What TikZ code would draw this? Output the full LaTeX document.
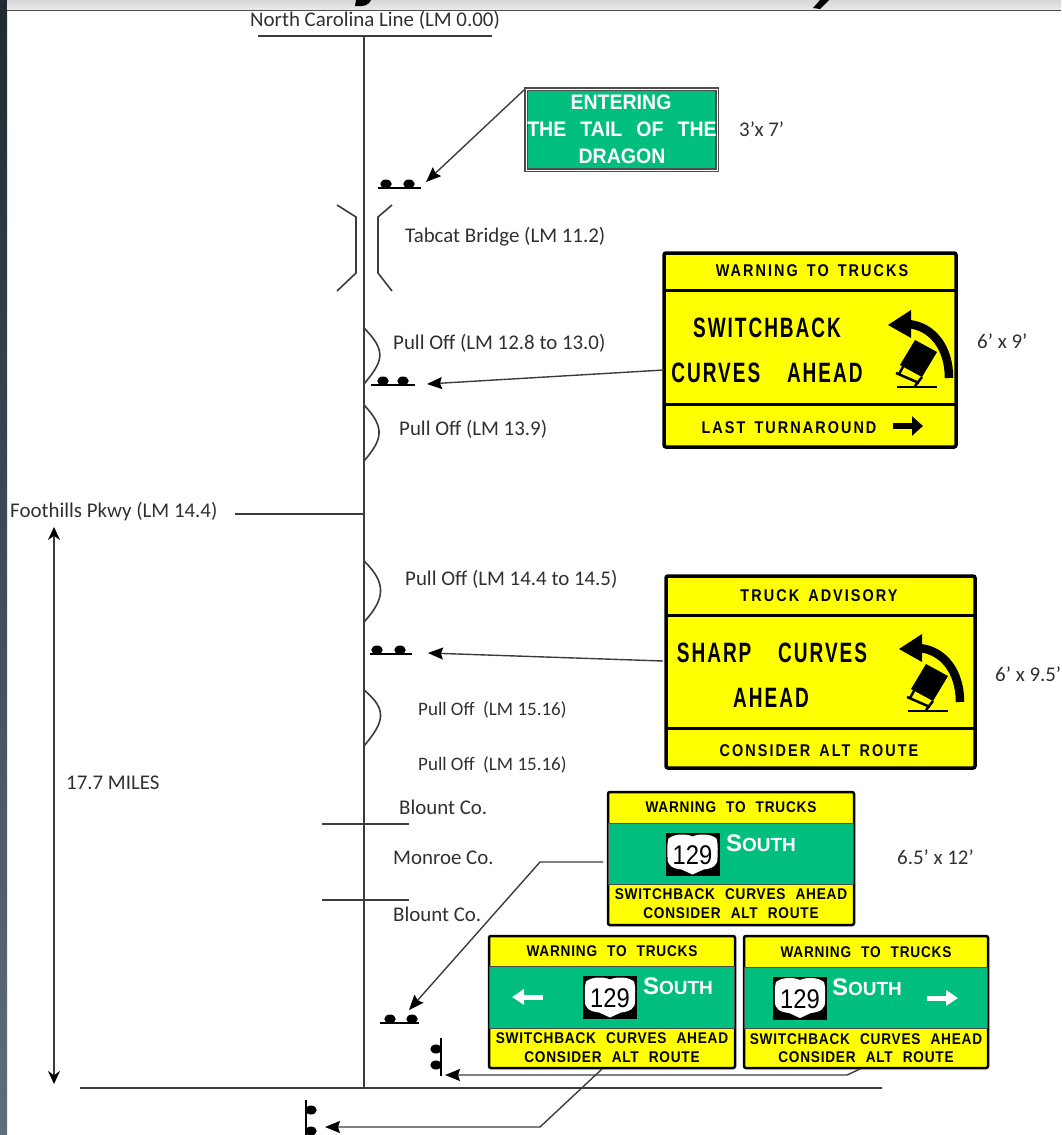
\documentclass[tikz,border=0pt]{standalone}
\usepackage{fontspec}
\setmainfont{Carlito}
\newfontfamily\signfont[FakeStretch=0.68,LetterSpace=7,WordSpace=3.7]{Liberation Sans}
\newfontfamily\signwide[FakeStretch=0.85,LetterSpace=12,WordSpace=1.5]{Liberation Sans}
\newfontfamily\signnarrow[FakeStretch=0.88,LetterSpace=5,WordSpace=2.2]{Liberation Sans}
\newfontfamily\signwhite[FakeStretch=0.93,WordSpace=2.6]{Liberation Sans}
\newfontfamily\southfont{Liberation Sans}
\newfontfamily\routefont[FakeStretch=0.88]{Liberation Sans}
\usetikzlibrary{arrows.meta,shapes.geometric}
\definecolor{signgreen}{HTML}{00BE7E}
\definecolor{signyellow}{HTML}{FFFF00}
\definecolor{roadgray}{HTML}{3C3C3C}
\definecolor{labelgray}{HTML}{303030}
\definecolor{barnavy}{HTML}{1F2A33}
\definecolor{barslate}{HTML}{5F6E7B}
\begin{document}
\begin{tikzpicture}[
  x=1pt, y=-1pt,
  road/.style={draw=roadgray, line width=1.6pt},
  tiparrow/.style={draw=roadgray, line width=1.4pt, -{Stealth[length=15pt,width=12pt,inset=2pt,black]}},
  place/.style={anchor=west, inner sep=0pt, yshift=-1pt, text=labelgray, font={\fontsize{20.9}{21}\selectfont}},
  placesmall/.style={place, font={\fontsize{19}{19}\selectfont}},
  postdot/.style={ellipse, fill=black, inner sep=0pt, minimum width=11.5pt, minimum height=9pt},
  postbar/.style={draw=black, line width=1.6pt},
  yellowsign/.style={draw=black, fill=signyellow, line width=3.5pt, rounded corners=2pt, inner sep=0pt},
  yellowsmall/.style={yellowsign, line width=2.5pt},
  greenband/.style={draw=black!70, fill=signgreen, line width=.7pt, inner sep=0pt},
  signrule/.style={draw=black, line width=3pt},
  sbig/.style={inner sep=0pt, font={\signfont\bfseries\fontsize{28}{28}\selectfont}},
  smid/.style={inner sep=0pt, font={\signwide\bfseries\fontsize{17}{17}\selectfont}},
  ssmall/.style={inner sep=0pt, font={\signnarrow\bfseries\fontsize{15.5}{15.5}\selectfont}},
  swhite/.style={inner sep=0pt, text=white, font={\signwhite\bfseries\fontsize{21}{21}\selectfont}},
  ssouth/.style={inner sep=0pt, text=white, font={\southfont\bfseries\fontsize{24}{24}\selectfont}},
  truckmark/.pic={
    \draw[black, line width=2.2pt] (-20,0) -- (20,0);
    \fill[black] (-2,-47) -- (20,-35) -- (5,-10) -- (-17,-22) -- cycle;
    \draw[black, line width=2.5pt] (-21,-14) -- (2,-4);
    \draw[black, line width=2.5pt] (-13,-22) -- (-18,-13);
    \draw[black, line width=2.5pt] (5,-10) -- (-2,-1);
    \draw[black, line width=8.5pt] (32,-9) .. controls (32,-40) and (15,-61) .. (-9,-63);
    \fill[black] (-29,-62) -- (-6,-77) -- (-6,-49) -- cycle;
  },
  usshield/.pic={
    \fill[black] (-27,-21.5) rectangle (27,21.5);
    \fill[white] (-24,-16) .. controls (-18,-21) and (-6,-21) .. (0,-18)
      .. controls (6,-21) and (18,-21) .. (24,-16)
      .. controls (26,-8) and (25,-4) .. (25,3)
      .. controls (25.5,11) and (20,14) .. (11,15) -- (0,20) -- (-11,15)
      .. controls (-20,14) and (-25.5,11) .. (-25,3)
      .. controls (-25,-4) and (-26,-8) .. (-24,-16) -- cycle;
    \node[inner sep=0pt, font={\routefont\fontsize{27}{27}\selectfont}] (-num) at (0,1) {129};
  }
]
\useasboundingbox (0,0) rectangle (1061,1135);
% window edges
\fill[top color=barnavy, bottom color=barslate] (0,0) rectangle (7,1135);
\fill[top color=black!16, bottom color=black!8] (7,0) rectangle (1061,10);
\draw[black!70, line width=.8pt] (7,10) -- (1061,10);
\fill[black] (356,0) -- (371,0) .. controls (369,5) and (364,7) .. (355,6) -- cycle;
\fill[black] (820,0) -- (829,0) -- (820,9) -- (813,8) -- cycle;
% route
\node[place] (nclabel) at (250,19) {North Carolina Line (LM 0.00)};
\coordinate (nca) at (258,36);
\coordinate (ncb) at (492,36);
\coordinate (rtop) at (364,36);
\coordinate (rbot) at (364,1088);
\coordinate (enda) at (80,1088);
\coordinate (endb) at (882,1088);
\draw[road] (nca) -- (ncb);
\draw[road] (enda) -- (endb);
\draw[road] (rtop) -- (rbot);
% bridge
\draw[road] (337,205) -- (356,217) -- (356,273) -- (337,291);
\draw[road] (392,205) -- (378,217) -- (378,273) -- (392,291);
\node[place] (bridgelabel) at (405,236) {Tabcat Bridge (LM 11.2)};
% pull offs
\draw[road] (364,328) .. controls (388,352) and (382,362) .. (364,384);
\draw[road] (364,405) .. controls (386,428) and (382,440) .. (364,461);
\draw[road] (364,561) .. controls (388,584) and (384,600) .. (364,622);
\draw[road] (364,690) .. controls (388,710) and (384,722) .. (364,746);
\node[place] (pulla) at (393,342) {Pull Off (LM 12.8 to 13.0)};
\node[place] (pullb) at (399,428) {Pull Off (LM 13.9)};
\node[place] (pullc) at (405,578) {Pull Off (LM 14.4 to 14.5)};
\node[placesmall] (pulld) at (418,709) {Pull Off\ \ (LM 15.16)};
\node[placesmall] (pulle) at (418,764) {Pull Off\ \ (LM 15.16)};
% foothills and span
\node[place] (foothills) at (10,511) {Foothills Pkwy (LM 14.4)};
\coordinate (footend) at (235,514);
\coordinate (footroad) at (364,514);
\draw[road] (footend) -- (footroad);
\coordinate (spana) at (54,527);
\coordinate (spanb) at (54,1084);
\draw[roadgray, line width=1.6pt, {Stealth[length=13pt,width=12pt,black]}-{Stealth[length=13pt,width=12pt,black]}] (spana) -- (spanb);
\node[place] (spanlabel) at (66,782) {17.7 MILES};
% county lines
\coordinate (cta) at (322,824);
\coordinate (ctb) at (409,824);
\coordinate (ctc) at (322,900);
\coordinate (ctd) at (409,900);
\draw[road] (cta) -- (ctb);
\draw[road] (ctc) -- (ctd);
\node[place] (blounta) at (399,806) {Blount Co.};
\node[place] (monroe) at (393,857) {Monroe Co.};
\node[place] (blountb) at (393,913) {Blount Co.};
% sign posts
\draw[postbar] (378,188) -- (421,188);
\node[postdot] (posta1) at (386,184) {};
\node[postdot] (posta2) at (409,184) {};
\draw[postbar] (371,385) -- (415,385);
\node[postdot] (postb1) at (383,381) {};
\node[postdot] (postb2) at (403,381) {};
\draw[postbar] (370,654) -- (412,654);
\node[postdot] (postc1) at (377,650) {};
\node[postdot] (postc2) at (400,650) {};
\draw[postbar] (380,1023) -- (419,1023);
\node[postdot] (postd1) at (390,1019) {};
\node[postdot] (postd2) at (412,1019) {};
\draw[postbar] (441,1038) -- (441,1076);
\node[postdot] (poste1) at (436,1049) {};
\node[postdot] (poste2) at (436,1065) {};
\draw[postbar] (306,1100) -- (306,1135);
\node[postdot] (postf1) at (311,1110) {};
\node[postdot] (postf2) at (311,1131) {};
% entering sign
\node[draw=black!70, fill=signgreen, line width=1.4pt, double=white, double distance=.8pt, inner sep=0pt, minimum width=191pt, minimum height=81pt] (signa) at (621.5,129.5) {};
\node[swhite] (signa1) at (621,102) {ENTERING};
\node[swhite] (signa2) at (622,129) {THE TAIL OF THE};
\node[swhite] (signa3) at (622,156) {DRAGON};
\node[place] (sizea) at (739,128) {3'x 7'};
\coordinate (arra) at (524,90);
\coordinate (tipa) at (426,182);
\draw[tiparrow] (arra) -- (tipa);
% switchback sign
\node[yellowsign, minimum width=292pt, minimum height=194pt] (signb) at (810,350) {};
\draw[signrule] (664,290) -- (956,290);
\draw[signrule] (664,404) -- (956,404);
\node[smid] (signb1) at (812,271) {WARNING TO TRUCKS};
\node[sbig] (signb2) at (767,328) {SWITCHBACK};
\node[sbig] (signb3) at (767,373) {CURVES AHEAD};
\node[smid] (signb4) at (789,428) {LAST TURNAROUND};
\draw[black, line width=6.5pt, -{Triangle[length=11pt,width=19pt]}] (893,426) -- (923,426);
\pic at (917,387) {truckmark};
\node[place] (sizeb) at (977,340) {6' x 9'};
\coordinate (arrb) at (664,370);
\coordinate (tipb) at (427,384);
\draw[tiparrow] (arrb) -- (tipb);
% advisory sign
\node[yellowsign, minimum width=309pt, minimum height=192pt] (signc) at (820.5,672) {};
\draw[signrule] (666,615) -- (975,615);
\draw[signrule] (666,728) -- (975,728);
\node[smid] (signc1) at (819,596) {TRUCK ADVISORY};
\node[sbig] (signc2) at (772,653) {SHARP CURVES};
\node[sbig] (signc3) at (771,698) {AHEAD};
\node[smid] (signc4) at (819,751) {CONSIDER ALT ROUTE};
\pic at (928,711) {truckmark};
\node[place] (sizec) at (995,673) {6' x 9.5'};
\coordinate (arrc) at (663,661);
\coordinate (tipc) at (428,653);
\draw[tiparrow] (arrc) -- (tipc);
% route signs
\node[yellowsmall, minimum width=246pt, minimum height=133pt] (signd) at (731,858.5) {};
\node[greenband, minimum width=245pt, minimum height=61pt] (bandd) at (731,853.5) {};
\node[ssmall] (signd1) at (731,807) {WARNING TO TRUCKS};
\pic (shieldd) at (692.5,854.5) {usshield};
\node[ssouth] (southd) at (761,843) {S{\fontsize{19}{19}\selectfont OUTH}};
\node[ssmall] (signd2) at (731,894) {SWITCHBACK CURVES AHEAD};
\node[ssmall] (signd3) at (731,913) {CONSIDER ALT ROUTE};
\node[place] (sized) at (897,856) {6.5' x 12'};
\node[yellowsmall, minimum width=246pt, minimum height=132pt] (signe) at (612,1002) {};
\node[greenband, minimum width=245pt, minimum height=62pt] (bande) at (612,997) {};
\node[ssmall] (signe1) at (612,951) {WARNING TO TRUCKS};
\pic (shielde) at (610,997.5) {usshield};
\node[ssouth] (southe) at (678,986) {S{\fontsize{19}{19}\selectfont OUTH}};
\draw[draw=white, line width=5pt, -{Triangle[length=12pt,width=15pt]}] (543,997) -- (512,997);
\node[ssmall] (signe2) at (612,1038) {SWITCHBACK CURVES AHEAD};
\node[ssmall] (signe3) at (612,1057) {CONSIDER ALT ROUTE};
\node[yellowsmall, minimum width=244pt, minimum height=132pt] (signf) at (866,1002) {};
\node[greenband, minimum width=243pt, minimum height=61pt] (bandf) at (866,997.5) {};
\node[ssmall] (signf1) at (866,952) {WARNING TO TRUCKS};
\pic (shieldf) at (800,998) {usshield};
\node[ssouth] (southf) at (867,987) {S{\fontsize{19}{19}\selectfont OUTH}};
\draw[draw=white, line width=5pt, -{Triangle[length=12pt,width=15pt]}] (927,998) -- (958,998);
\node[ssmall] (signf2) at (866,1039) {SWITCHBACK CURVES AHEAD};
\node[ssmall] (signf3) at (866,1057) {CONSIDER ALT ROUTE};
% leaders
\coordinate (arrd) at (603,862);
\coordinate (kneed) at (540,862);
\coordinate (tipd) at (409,1010);
\draw[tiparrow] (arrd) -- (kneed) -- (tipd);
\coordinate (arrf) at (860,1069);
\coordinate (kneef) at (847,1075);
\coordinate (tipf) at (445,1075);
\draw[tiparrow] (arrf) -- (kneef) -- (tipf);
\coordinate (arre) at (602,1069);
\coordinate (kneee) at (540,1127);
\coordinate (tipe) at (325,1127);
\draw[tiparrow] (arre) -- (kneee) -- (tipe);
\end{tikzpicture}
\end{document}
